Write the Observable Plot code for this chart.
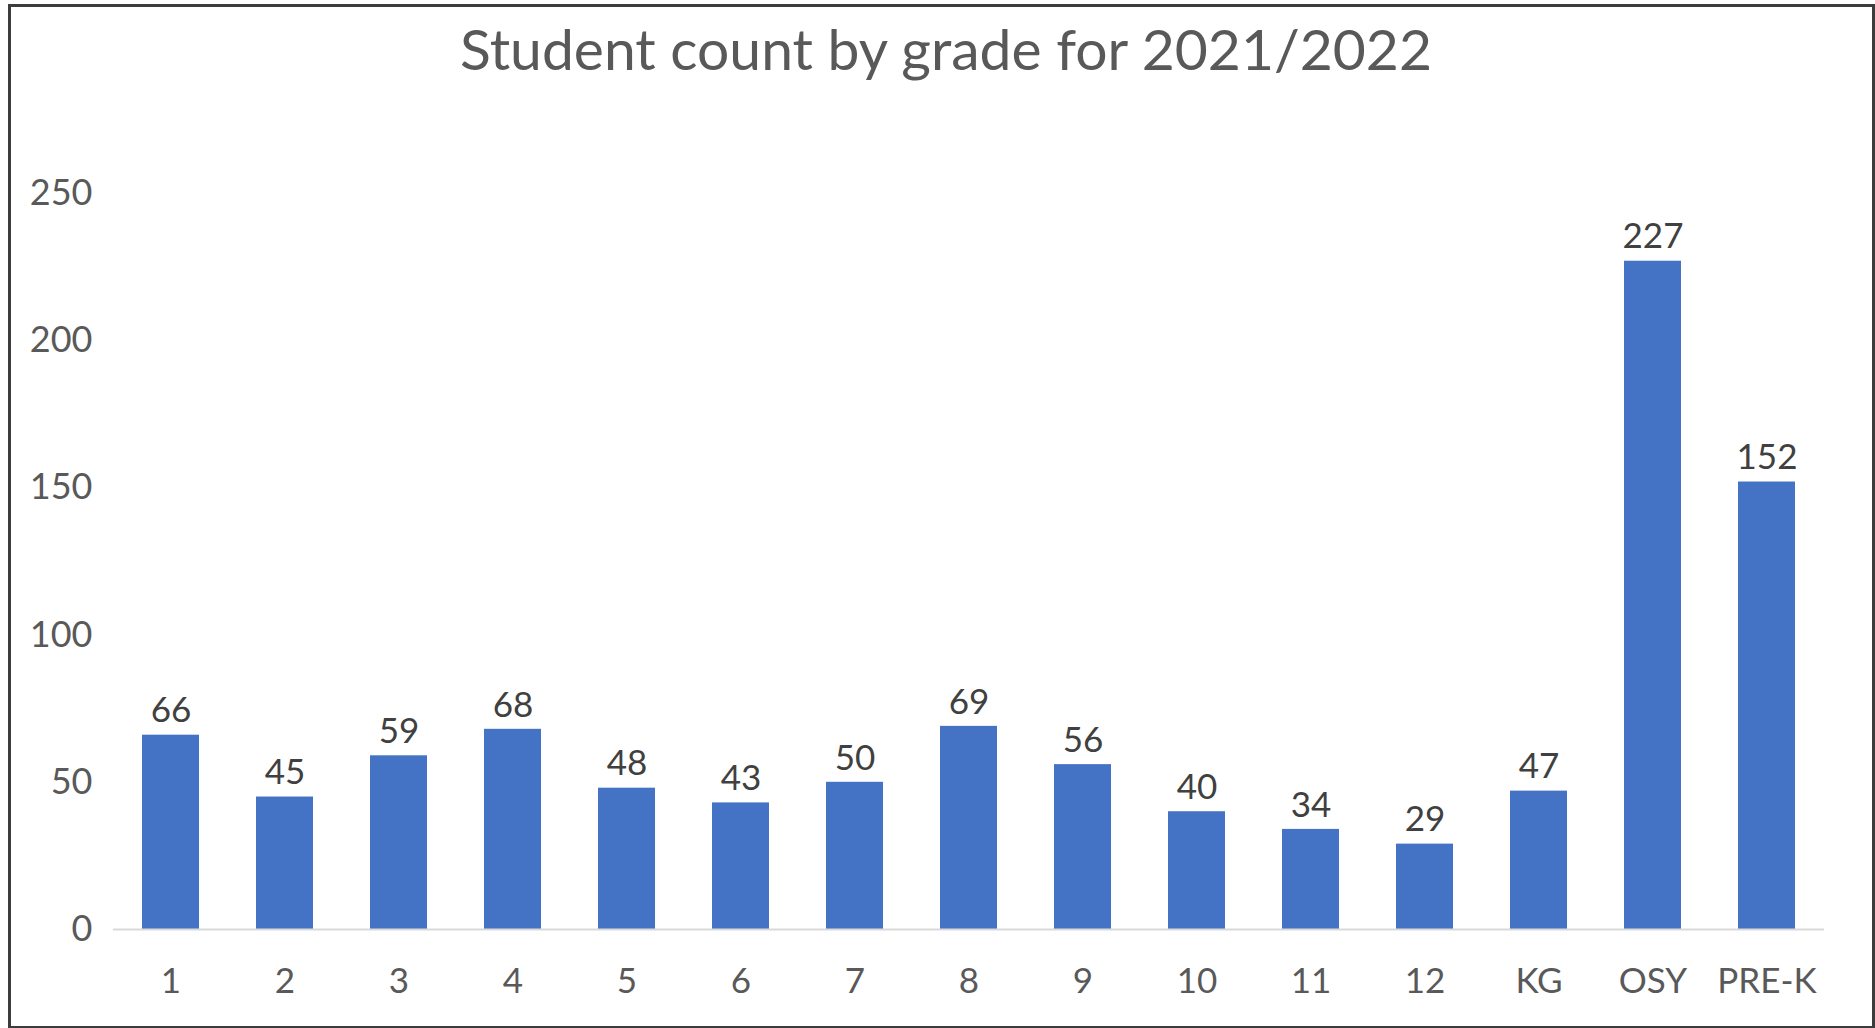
<!DOCTYPE html>
<html>
<head>
<meta charset="utf-8">
<script src="https://cdn.jsdelivr.net/npm/d3@7"></script>
<script src="https://cdn.jsdelivr.net/npm/@observablehq/plot@0.6"></script>
<style>
  html, body { margin: 0; padding: 0; background: #fff; overflow: hidden; }
  body { width: 1875px; height: 1028px; position: relative; font-family: Lato, "Open Sans", sans-serif; }
  #frame { position: absolute; left: 8px; top: 4px; width: 1861px; height: 1019px; border: 3px solid #3c3c3c; box-sizing: content-box; }
  #title { position: absolute; left: 20px; top: 20px; width: 1852px; text-align: center; font-size: 57px; line-height: 57px; color: #595959; white-space: nowrap; }
  #chart { position: absolute; left: 0; top: 100px; }
</style>
</head>
<body>
<div id="frame"></div>
<div id="title">Student count by grade for 2021/2022</div>
<div id="chart"></div>
<script>
const grades = ["1", "2", "3", "4", "5", "6", "7", "8", "9", "10", "11", "12", "KG", "OSY", "PRE-K"];
const counts = [66, 45, 59, 68, 48, 43, 50, 69, 56, 40, 34, 29, 47, 227, 152];
const yTicks = [0, 50, 100, 150, 200, 250];

const data = grades.map((g, i) => ({grade: g, count: counts[i]}));

const chart = Plot.plot({
  width: 1875,
  height: 920,
  marginLeft: 113,
  marginRight: 51,
  marginTop: 93,
  marginBottom: 91,
  style: {fontFamily: "Lato, 'Open Sans', sans-serif", color: "#595959", background: "transparent"},
  x: {domain: grades, paddingInner: 0.5, paddingOuter: 0.25, label: null},
  y: {domain: [0, 250], ticks: yTicks, label: null},
  marks: [
    Plot.axisY({ticks: yTicks, tickSize: 0, tickPadding: 21, fontSize: 36, label: null, fill: "#595959"}),
    Plot.axisX({tickSize: 0, tickPadding: 39, fontSize: 35, label: null, fill: "#595959"}),
    Plot.barY(data, {x: "grade", y: "count", fill: "#4472C4"}),
    Plot.ruleY([0], {stroke: "#D9D9D9", strokeWidth: 2}),
    Plot.text(data, {x: "grade", y: "count", text: d => String(d.count), dy: -24, lineAnchor: "middle", fontSize: 35, fill: "#404040"})
  ]
});
document.getElementById("chart").appendChild(chart);
</script>
</body>
</html>
